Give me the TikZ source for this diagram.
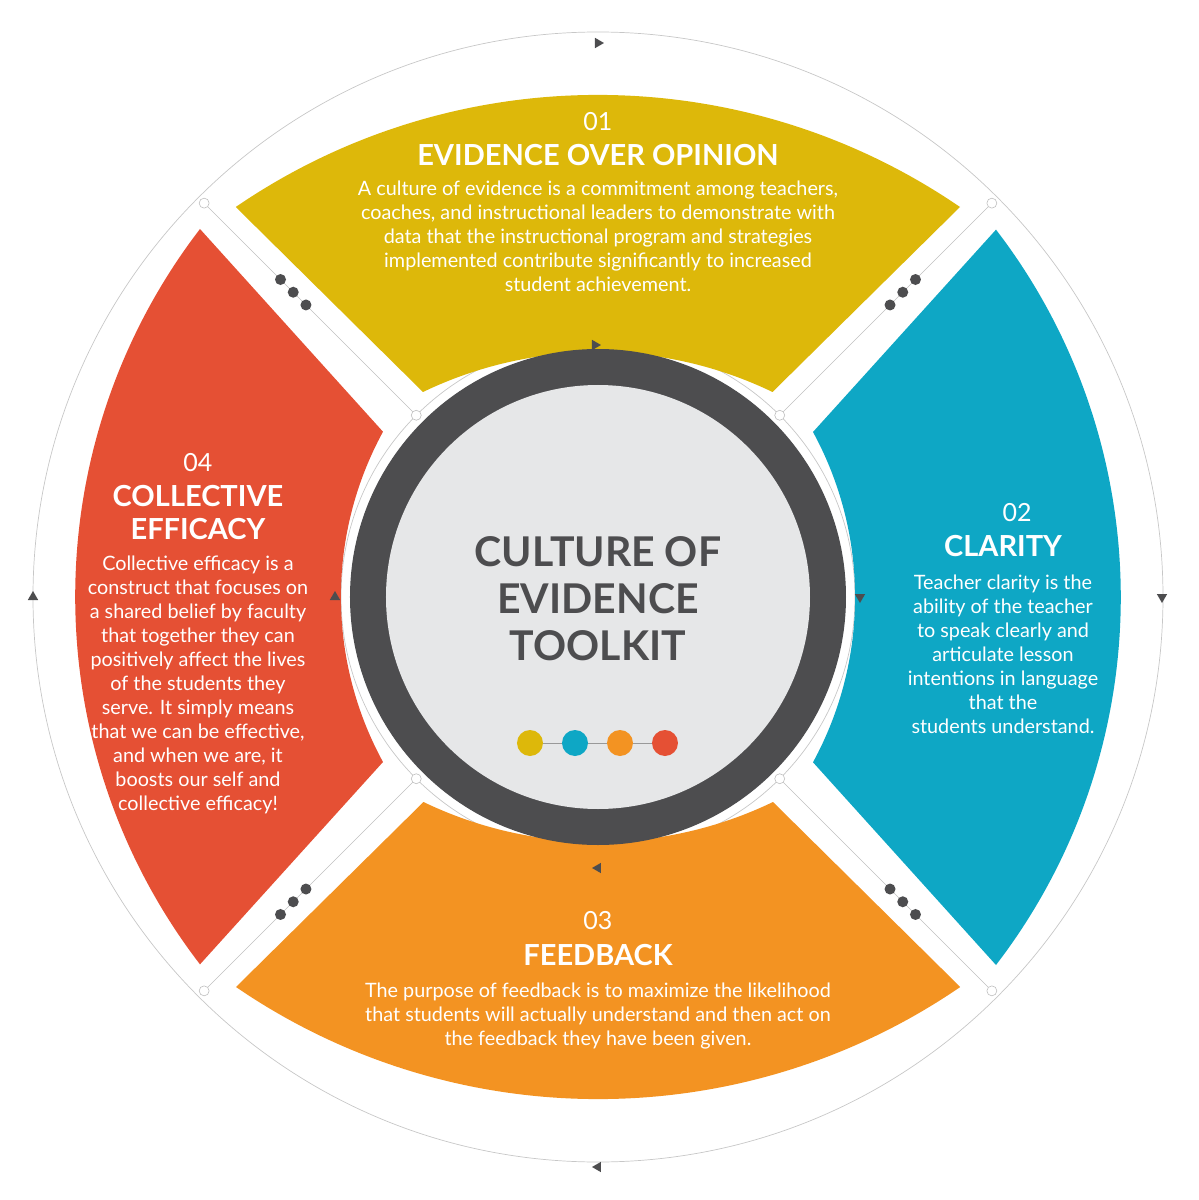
\documentclass[tikz,border=0pt]{standalone}
\usepackage{fontspec}
\setmainfont{Lato}
\usetikzlibrary{shapes.geometric}
\definecolor{cyellow}{HTML}{DDB80A}
\definecolor{cblue}{HTML}{0EA7C5}
\definecolor{corange}{HTML}{F39322}
\definecolor{cred}{HTML}{E55034}
\definecolor{cdark}{HTML}{4D4D4F}
\definecolor{clight}{HTML}{E6E7E8}
\tikzset{
  num/.style={text=white, font=\fontsize{25}{29}\selectfont},
  title/.style={text=white, font=\fontsize{29}{33}\selectfont\bfseries, align=center},
  body/.style={text=white, font=\fontsize{19.8}{24}\selectfont, align=center},
  tri/.style={isosceles triangle, fill=cdark, inner sep=0pt, minimum height=9pt, minimum width=9pt, isosceles triangle apex angle=60},
  knob/.style={circle, draw=black!25, fill=white, line width=0.6pt, inner sep=0pt, minimum size=10pt},
  bead/.style={circle, fill=cdark, inner sep=0pt, minimum size=11pt},
  dot/.style={circle, inner sep=0pt, minimum size=26pt}
}
\begin{document}
\begin{tikzpicture}[x=1pt,y=1pt]
  \useasboundingbox (-598,-603) rectangle (601,597);

  % outer and inner guide circles
  \draw[black!22, line width=0.7pt] (0,0) circle (565);
  \draw[black!22, line width=0.7pt] (0,0) circle (257);

  % top and bottom sectors
  \foreach \ang/\col in {0/cyellow, 180/corange} {
    \begin{scope}[rotate=\ang]
      \fill[\col] (362,390) arc[start angle=55.6, end angle=124.4, radius=641]
        -- (-175,205) arc[start angle=115.7, end angle=64.3, radius=403] -- cycle;
    \end{scope}
  }
  % side sectors
  \foreach \ang/\col in {-90/cblue, 90/cred} {
    \begin{scope}[rotate=\ang]
      \fill[\col] (368,398) arc[start angle=52.5, end angle=127.5, radius=604]
        -- (-165,215) arc[start angle=118.6, end angle=61.4, radius=345] -- cycle;
    \end{scope}
  }

  % diagonal spokes with end knobs and beads
  \foreach \d in {45,135,225,315} {
    \coordinate (s\d) at (\d:257);
    \coordinate (e\d) at (\d:557);
    \draw[black!25, line width=0.6pt] (s\d) -- (e\d);
    \node[knob] at (s\d) {};
    \node[knob] at (e\d) {};
    \foreach \r in {413,431,449}
      \node[bead] at (\d:\r) {};
  }

  % direction markers
  \node[tri, rotate=0] (t1) at (0,554) {};
  \node[tri, rotate=-90] (t2) at (564,0) {};
  \node[tri, rotate=180] (t3) at (0,-570) {};
  \node[tri, rotate=90] (t4) at (-565,0) {};
  \node[tri, rotate=0] (u1) at (-3,252) {};
  \node[tri, rotate=-90] (u2) at (262,0) {};
  \node[tri, rotate=180] (u3) at (0,-271) {};
  \node[tri, rotate=90] (u4) at (-263,0) {};

  % centre
  \fill[cdark] (0,0) circle (248);
  \fill[clight] (0,0) circle (212);
  \node[text=cdark, font=\fontsize{41}{47}\selectfont\bfseries, align=center] (core) at (0,-2)
    {CULTURE OF\\EVIDENCE\\TOOLKIT};
  \draw[black!40, line width=0.6pt] (-68,-146) -- (67,-146);
  \node[dot, fill=cyellow] (d1) at (-68,-146) {};
  \node[dot, fill=cblue] (d2) at (-23,-146) {};
  \node[dot, fill=corange] (d3) at (22,-146) {};
  \node[dot, fill=cred] (d4) at (67,-146) {};

  % 01
  \node[num] (n1) at (0,475) {01};
  \node[title] (h1) at (0,442) {EVIDENCE OVER OPINION};
  \node[body] (b1) at (0,361) {A culture of evidence is a commitment among teachers,\\coaches, and instructional leaders to demonstrate with\\data that the instructional program and strategies\\implemented contribute significantly to increased\\student achievement.};

  % 02
  \node[num] (n2) at (419,84) {02};
  \node[title] (h2) at (405,51) {CLARITY};
  \node[body] (b2) at (405,-57) {Teacher clarity is the\\ability of the teacher\\to speak clearly and\\articulate lesson\\intentions in language\\that the\\students understand.};

  % 03
  \node[num] (n3) at (0,-324) {03};
  \node[title] (h3) at (0,-358) {FEEDBACK};
  \node[body] (b3) at (0,-419) {The purpose of feedback is to maximize the likelihood\\that students will actually understand and then act on\\the feedback they have been given.};

  % 04
  \node[num] (n4) at (-400,134) {04};
  \node[title] (h4) at (-400,84) {COLLECTIVE\\EFFICACY};
  \node[body] (b4) at (-400,-88) {Collective efficacy is a\\construct that focuses on\\a shared belief by faculty\\that together they can\\positively affect the lives\\of the students they\\serve. It simply means\\that we can be effective,\\and when we are, it\\boosts our self and\\collective efficacy!};
\end{tikzpicture}
\end{document}
